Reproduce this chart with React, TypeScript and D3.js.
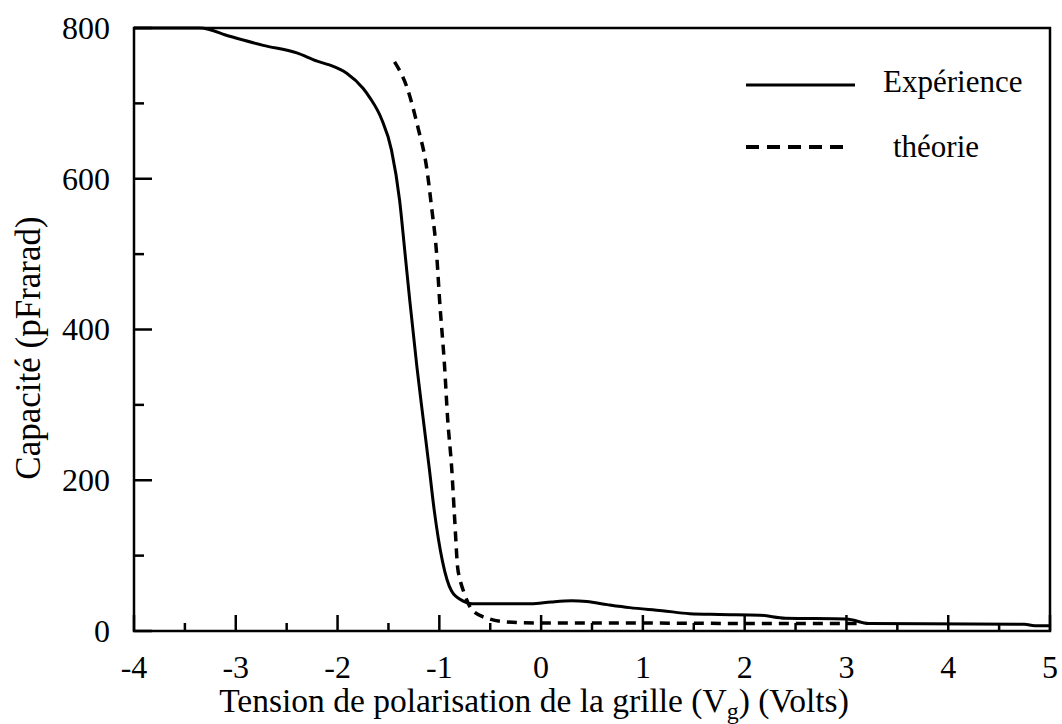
import React from "react";
import * as d3 from "d3";

// ---- data ----
const expVoltage = [-4, -3.35, -3.06, -2.73, -2.4, -2.2, -2.08, -1.91, -1.75, -1.68, -1.57, -1.47, -1.39, -1.34, -1.29, -1.22, -1.16, -1.1, -1.05, -0.97, -0.88, -0.77, -0.67, -0.1, 0.1, 0.3, 0.45, 0.65, 0.87, 1.19, 1.46, 1.75, 2.15, 2.4, 3.0, 3.22, 4.75, 4.85, 5];
const expCapacity = [800, 800, 789, 777, 767, 756, 751, 740, 720, 707, 680, 638, 571, 505, 438, 350, 283, 217, 160, 93, 53, 40, 36, 36, 38.5, 40, 39, 35, 31, 27, 23, 22, 21, 17, 16, 10, 9, 7, 7];

const theoVoltage = [-1.44, -1.32, -1.21, -1.125, -1.076, -1.027, -0.997, -0.948, -0.919, -0.879, -0.85, -0.82, -0.8, -0.752, -0.673, -0.506, -0.34, 0, 1, 2, 3.1];
const theoCapacity = [755, 722, 668, 615, 562, 501, 438, 350, 283, 217, 150, 84, 70, 49, 27, 16, 12, 10.5, 10.5, 10, 10];

const xMajorTicks = [-4, -3, -2, -1, 0, 1, 2, 3, 4, 5];
const xMinorTicks = [-3.5, -2.5, -1.5, -0.5, 0.5, 1.5, 2.5, 3.5, 4.5];
const yMajorTicks = [0, 200, 400, 600, 800];
const yMinorTicks = [100, 300, 500, 700];

const legendLabels = ["Expérience", "théorie"];
const yTitle = "Capacité (pFrarad)";

const W = 1062;
const H = 724;
const L = 134, R = 1050, T = 28, B = 631;
const FONT = "'Liberation Serif', 'Times New Roman', serif";

export default function App() {
  const x = d3.scaleLinear().domain([-4, 5]).range([L, R]);
  const y = d3.scaleLinear().domain([0, 800]).range([B, T]);

  const line = d3
    .line<[number, number]>()
    .x((d) => x(d[0]))
    .y((d) => y(d[1]))
    .curve(d3.curveMonotoneX);

  const expPts: [number, number][] = expVoltage.map((v, i) => [v, expCapacity[i]]);
  const theoPts: [number, number][] = theoVoltage.map((v, i) => [v, theoCapacity[i]]);

  return (
    <svg
      width={W}
      height={H}
      viewBox={`0 0 ${W} ${H}`}
      style={{ position: "absolute", left: 0, top: 0, background: "#fff" }}
    >
      <rect x={0} y={0} width={W} height={H} fill="#fff" />
      {/* curves */}
      <path d={line(expPts) || ""} fill="none" stroke="#000" strokeWidth={3} strokeLinejoin="round" />
      <path d={line(theoPts) || ""} fill="none" stroke="#000" strokeWidth={3.5} strokeDasharray="10,7" />

      {/* frame */}
      <rect x={L} y={T} width={R - L} height={B - T} fill="none" stroke="#000" strokeWidth={2.5} />

      {/* y ticks */}
      {yMajorTicks.map((t) => (
        <g key={"ym" + t}>
          <line x1={L} x2={L + 18} y1={y(t)} y2={y(t)} stroke="#000" strokeWidth={2.5} />
          <text x={110} y={y(t)} dy="0.34em" textAnchor="end" fontFamily={FONT} fontSize={32}>
            {t}
          </text>
        </g>
      ))}
      {yMinorTicks.map((t) => (
        <line key={"yn" + t} x1={L} x2={L + 10} y1={y(t)} y2={y(t)} stroke="#000" strokeWidth={2.5} />
      ))}

      {/* x ticks */}
      {xMajorTicks.map((t) => (
        <g key={"xm" + t}>
          <line x1={x(t)} x2={x(t)} y1={B} y2={B - 16} stroke="#000" strokeWidth={2.5} />
          <text x={x(t)} y={678} textAnchor="middle" fontFamily={FONT} fontSize={32}>
            {t}
          </text>
        </g>
      ))}
      {xMinorTicks.map((t) => (
        <line key={"xn" + t} x1={x(t)} x2={x(t)} y1={B} y2={B - 8} stroke="#000" strokeWidth={2.5} />
      ))}

      {/* axis titles */}
      <text x={534} y={712} textAnchor="middle" fontFamily={FONT} fontSize={33.5}>
        Tension de polarisation de la grille (V
        <tspan fontSize={24} dy={7}>g</tspan>
        <tspan dy={-7}>) (Volts)</tspan>
      </text>
      <text
        transform={`translate(40, ${348}) rotate(-90)`}
        textAnchor="middle"
        fontFamily={FONT}
        fontSize={35}
      >
        {yTitle}
      </text>

      {/* legend */}
      <line x1={746} x2={855} y1={85} y2={85} stroke="#000" strokeWidth={3} />
      <text x={883} y={92} fontFamily={FONT} fontSize={31}>
        {legendLabels[0]}
      </text>
      <line x1={746} x2={843} y1={147} y2={147} stroke="#000" strokeWidth={4} strokeDasharray="13,8" />
      <text x={893} y={157} fontFamily={FONT} fontSize={31}>
        {legendLabels[1]}
      </text>
    </svg>
  );
}
